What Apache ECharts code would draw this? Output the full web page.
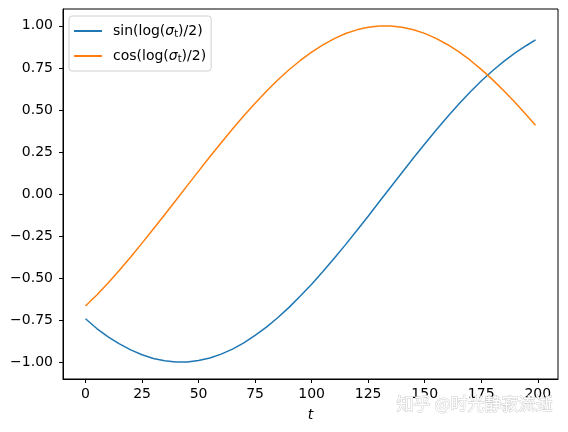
<!DOCTYPE html>
<html>
<head>
<meta charset="utf-8">
<script src="https://cdn.jsdelivr.net/npm/echarts@6/dist/echarts.min.js"></script>
<style>
  html, body { margin: 0; padding: 0; background: #fff; }
  #chart { width: 568px; height: 432px; }
</style>
</head>
<body>
<div id="chart"></div>
<script>
// values (every 5 steps of t, plus the last one)
const tValues = [0, 5, 10, 15, 20, 25, 30, 35, 40, 45, 50, 55, 60, 65, 70, 75, 80, 85, 90, 95,
  100, 105, 110, 115, 120, 125, 130, 135, 140, 145, 150, 155, 160, 165, 170, 175, 180, 185, 190, 195, 199]
const sinValues = [-0.742, -0.800, -0.849, -0.891, -0.927, -0.956, -0.978, -0.992, -0.999, -0.999,
  -0.990, -0.975, -0.952, -0.922, -0.885, -0.841, -0.792, -0.736, -0.674, -0.607,
  -0.536, -0.461, -0.382, -0.301, -0.217, -0.132, -0.045, 0.042, 0.128, 0.214,
  0.297, 0.379, 0.458, 0.533, 0.605, 0.672, 0.733, 0.789, 0.839, 0.883, 0.917]
const cosValues = [-0.666, -0.601, -0.529, -0.454, -0.375, -0.292, -0.208, -0.123, -0.037, 0.050,
  0.136, 0.222, 0.305, 0.387, 0.465, 0.540, 0.611, 0.678, 0.739, 0.794,
  0.844, 0.887, 0.924, 0.954, 0.976, 0.991, 0.999, 0.999, 0.992, 0.977,
  0.955, 0.925, 0.889, 0.846, 0.797, 0.741, 0.680, 0.614, 0.544, 0.469, 0.409]
const xTicks = [0, 25, 50, 75, 100, 125, 150, 175, 200]
const yTicks = [-1, -0.75, -0.5, -0.25, 0, 0.25, 0.5, 0.75, 1]

const FONT = 'DejaVu Sans'
const FS = 14

const chart = echarts.init(document.getElementById('chart'))

const fmtY = (v) => (v < 0 ? '\u2212' : '') + Math.abs(v).toFixed(2)

const legendNames = {
  sin: '{g|}sin(log({s|σ}{sub|t})/2)',
  cos: '{g|}cos(log({s|σ}{sub|t})/2)',
}

const option = {
  animation: false,
  grid: {
    left: 63,
    right: 10,
    top: 9,
    bottom: 53,
    show: true,
    borderColor: '#000',
    borderWidth: 1,
    backgroundColor: '#fff',
  },
  xAxis: {
    type: 'value',
    min: -9.95,
    max: 208.95,
    name: 't',
    nameLocation: 'middle',
    nameGap: 29,
    nameTextStyle: { fontFamily: FONT, fontSize: FS, fontStyle: 'italic', color: '#000' },
    axisLine: { show: true, onZero: false, lineStyle: { color: '#000', width: 1 } },
    axisTick: { show: true, length: 4, customValues: xTicks, lineStyle: { color: '#000' } },
    axisLabel: { customValues: xTicks, margin: 8, fontFamily: FONT, fontSize: FS, color: '#000' },
    splitLine: { show: false },
  },
  yAxis: {
    type: 'value',
    min: -1.1,
    max: 1.1,
    axisLine: { show: true, onZero: false, lineStyle: { color: '#000', width: 1 } },
    axisTick: { show: true, length: 4, customValues: yTicks, lineStyle: { color: '#000' } },
    axisLabel: { customValues: yTicks, margin: 10, fontFamily: FONT, fontSize: FS, color: '#000', formatter: fmtY },
    splitLine: { show: false },
  },
  legend: {
    orient: 'vertical',
    left: 69,
    top: 16,
    padding: [7, 5, 7, 5],
    itemGap: 9,
    itemWidth: 28,
    itemHeight: 2,
    icon: 'rect',
    backgroundColor: '#fff',
    borderColor: '#d0d0d0',
    borderWidth: 1,
    borderRadius: 3,
    formatter: (name) => legendNames[name],
    textStyle: {
      fontFamily: FONT,
      fontSize: FS,
      color: '#000',
      lineHeight: 16,
      rich: {
        g: { width: 6 },
        s: { fontFamily: FONT, fontSize: FS, fontStyle: 'italic', lineHeight: 16 },
        sub: { fontFamily: FONT, fontSize: 10, lineHeight: 10, verticalAlign: 'bottom' },
      },
    },
    data: ['sin', 'cos'],
  },
  series: [
    {
      name: 'sin',
      type: 'line',
      data: tValues.map((t, i) => [t, sinValues[i]]),
      symbol: 'none',
      lineStyle: { color: '#1f77b4', width: 1.5 },
      itemStyle: { color: '#1f77b4' },
    },
    {
      name: 'cos',
      type: 'line',
      data: tValues.map((t, i) => [t, cosValues[i]]),
      symbol: 'none',
      lineStyle: { color: '#ff7f0e', width: 1.5 },
      itemStyle: { color: '#ff7f0e' },
    },
  ],
  graphic: [
    {
      type: 'text',
      right: 15,
      top: 395,
      style: {
        text: '知乎 @时光静寂流逝',
        fontFamily: 'Noto Sans CJK SC',
        fontSize: 17,
        fill: '#ffffff',
        stroke: '#cdcdcd',
        lineWidth: 1,
      },
      z: 100,
    },
  ],
}

chart.setOption(option)
</script>
</body>
</html>
